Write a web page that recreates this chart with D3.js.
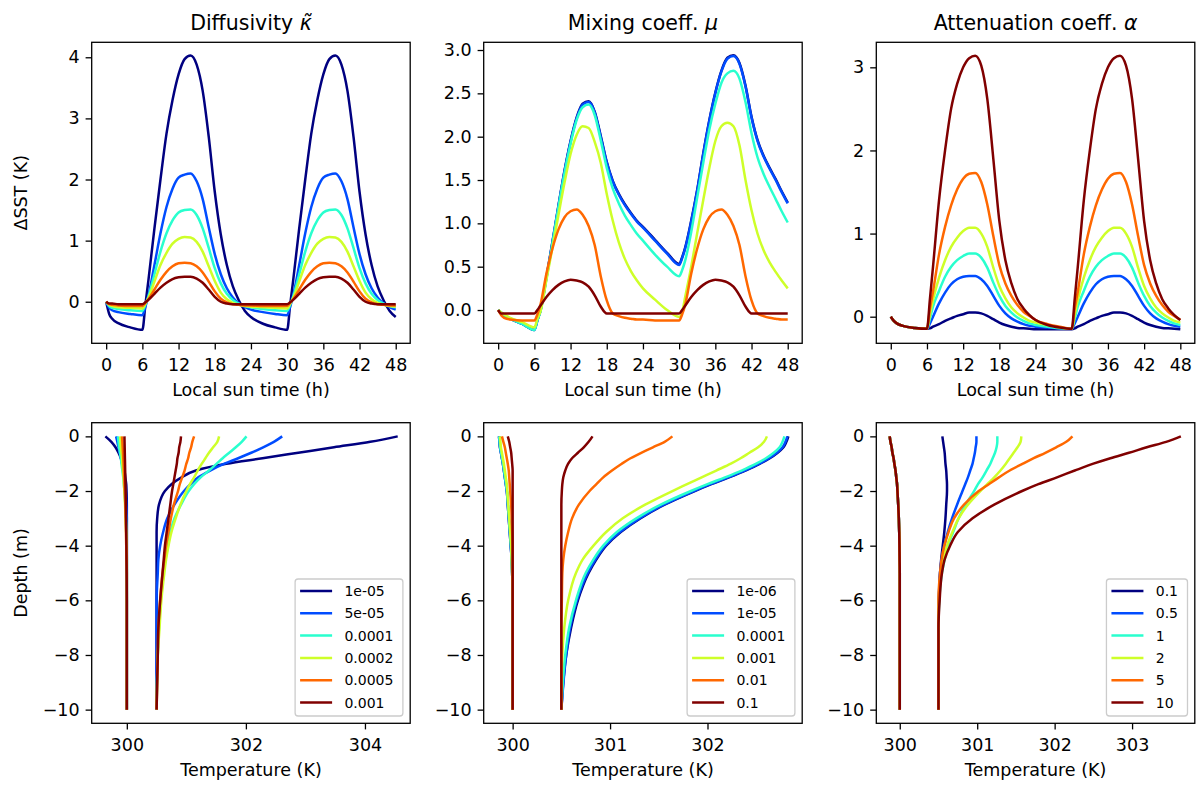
<!DOCTYPE html>
<html>
<head>
<meta charset="utf-8">
<script src="https://cdn.jsdelivr.net/npm/d3@7"></script>
<style>
  body { margin: 0; background: #fff; overflow: hidden; }
  svg { display: block; }
  svg text { font-family: "DejaVu Sans", sans-serif; fill: #000; }
</style>
</head>
<body>
<svg id="fig" width="1198" height="785"></svg>
<script>
// ---------------- data ----------------
const seriesColors = ["#000080", "#004cff", "#29ffce", "#ceff29", "#ff6800", "#800000"];

// local sun time (h)
const hours = [0, 0.5, 1, 2, 4, 6,
  6.5, 7, 8, 9, 10, 11, 12, 13, 14, 15, 16, 17, 18, 19, 20, 21, 22, 23, 24,
  26, 28, 30,
  30.5, 31, 32, 33, 34, 35, 36, 37, 38, 39, 40, 41, 42, 43, 44, 45, 46, 47, 48];

// diffusivity runs: ΔSST (K)
const kappaLabels = ["1e-05", "5e-05", "0.0001", "0.0002", "0.0005", "0.001"];
const sstKappa1e5 = [0, -0.2, -0.28, -0.35, -0.42, -0.46,
  -0.05, 0.35, 1.2, 2.0, 2.75, 3.3, 3.72, 3.97, 4.03, 3.88, 3.45, 2.7, 1.8, 1.1, 0.6, 0.25, 0.02, -0.15, -0.25,
  -0.36, -0.42, -0.46,
  -0.05, 0.35, 1.2, 2.0, 2.75, 3.3, 3.72, 3.97, 4.03, 3.88, 3.45, 2.7, 1.8, 1.1, 0.6, 0.25, 0.02, -0.15, -0.25];
const sstKappa5e5 = [0, -0.1, -0.14, -0.17, -0.2, -0.22,
  -0.08, 0.1, 0.6, 1.12, 1.55, 1.85, 2.03, 2.08, 2.1, 1.97, 1.68, 1.22, 0.78, 0.45, 0.22, 0.07, -0.03, -0.09, -0.13,
  -0.17, -0.2, -0.22,
  -0.08, 0.1, 0.6, 1.12, 1.55, 1.85, 2.03, 2.08, 2.1, 1.97, 1.68, 1.22, 0.78, 0.45, 0.22, 0.07, -0.03, -0.09, -0.13];
const sstKappa1e4 = [0, -0.07, -0.1, -0.12, -0.14, -0.15,
  -0.05, 0.08, 0.45, 0.82, 1.12, 1.33, 1.46, 1.5, 1.51, 1.42, 1.2, 0.88, 0.55, 0.3, 0.13, 0.03, -0.03, -0.07, -0.09,
  -0.12, -0.14, -0.15,
  -0.05, 0.08, 0.45, 0.82, 1.12, 1.33, 1.46, 1.5, 1.51, 1.42, 1.2, 0.88, 0.55, 0.3, 0.13, 0.03, -0.03, -0.07, -0.09];
const sstKappa2e4 = [0, -0.05, -0.07, -0.09, -0.1, -0.11,
  -0.03, 0.06, 0.33, 0.6, 0.8, 0.95, 1.03, 1.06, 1.05, 0.98, 0.82, 0.58, 0.34, 0.15, 0.04, -0.02, -0.05, -0.07, -0.08,
  -0.09, -0.1, -0.11,
  -0.03, 0.06, 0.33, 0.6, 0.8, 0.95, 1.03, 1.06, 1.05, 0.98, 0.82, 0.58, 0.34, 0.15, 0.04, -0.02, -0.05, -0.07, -0.08];
const sstKappa5e4 = [0, -0.04, -0.05, -0.06, -0.07, -0.07,
  -0.02, 0.04, 0.2, 0.36, 0.49, 0.58, 0.63, 0.64, 0.63, 0.58, 0.48, 0.33, 0.17, 0.05, -0.01, -0.04, -0.05, -0.06, -0.06,
  -0.07, -0.07, -0.07,
  -0.02, 0.04, 0.2, 0.36, 0.49, 0.58, 0.63, 0.64, 0.63, 0.58, 0.48, 0.33, 0.17, 0.05, -0.01, -0.04, -0.05, -0.06, -0.06];
const sstKappa1e3 = [0, -0.03, -0.03, -0.04, -0.04, -0.04,
  -0.01, 0.03, 0.13, 0.23, 0.31, 0.37, 0.4, 0.41, 0.41, 0.38, 0.31, 0.2, 0.08, 0.0, -0.03, -0.04, -0.04, -0.04, -0.04,
  -0.04, -0.04, -0.04,
  -0.01, 0.03, 0.13, 0.23, 0.31, 0.37, 0.4, 0.41, 0.41, 0.38, 0.31, 0.2, 0.08, 0.0, -0.03, -0.04, -0.04, -0.04, -0.04];

// mixing runs: ΔSST (K)
const muLabels = ["1e-06", "1e-05", "0.0001", "0.001", "0.01", "0.1"];
const sstMu1e6 = [0, -0.03, -0.06, -0.1, -0.16, -0.23,
  -0.12, -0.01, 0.38, 0.79, 1.21, 1.61, 1.95, 2.22, 2.38, 2.41, 2.29, 2.01, 1.71, 1.49, 1.34, 1.22, 1.12, 1.03, 0.96,
  0.81, 0.66, 0.53,
  0.61, 0.72, 1.03, 1.39, 1.81, 2.19, 2.51, 2.76, 2.91, 2.94, 2.85, 2.59, 2.23, 1.96, 1.78, 1.64, 1.51, 1.37, 1.24];
const sstMu1e5 = [0, -0.03, -0.06, -0.1, -0.16, -0.23,
  -0.12, -0.01, 0.37, 0.78, 1.2, 1.6, 1.94, 2.21, 2.37, 2.4, 2.28, 2.0, 1.7, 1.48, 1.33, 1.21, 1.11, 1.02, 0.95,
  0.8, 0.65, 0.52,
  0.6, 0.71, 1.02, 1.38, 1.8, 2.18, 2.5, 2.75, 2.9, 2.93, 2.84, 2.58, 2.22, 1.95, 1.77, 1.63, 1.5, 1.36, 1.23];
const sstMu1e4 = [0, -0.03, -0.06, -0.1, -0.16, -0.23,
  -0.12, -0.02, 0.36, 0.77, 1.19, 1.58, 1.92, 2.19, 2.34, 2.37, 2.25, 1.96, 1.64, 1.4, 1.23, 1.09, 0.98, 0.88, 0.8,
  0.64, 0.5, 0.39,
  0.46, 0.57, 0.9, 1.3, 1.7, 2.08, 2.38, 2.62, 2.73, 2.76, 2.67, 2.4, 2.04, 1.76, 1.57, 1.42, 1.28, 1.14, 1.01];
const sstMu1e3 = [0, -0.03, -0.05, -0.09, -0.14, -0.2,
  -0.1, -0.02, 0.35, 0.72, 1.1, 1.47, 1.8, 2.02, 2.12, 2.1, 1.94, 1.7, 1.34, 1.03, 0.78, 0.59, 0.45, 0.34, 0.25,
  0.12, 0.0, -0.08,
  -0.02, 0.15, 0.5, 0.89, 1.27, 1.64, 1.95, 2.12, 2.16, 2.12, 1.9, 1.5, 1.15, 0.88, 0.69, 0.55, 0.44, 0.34, 0.25];
const sstMu1e2 = [0, -0.06, -0.09, -0.11, -0.12, -0.12,
  -0.05, 0.06, 0.42, 0.71, 0.93, 1.07, 1.14, 1.16, 1.1, 0.97, 0.75, 0.39, 0.11, -0.04, -0.07, -0.09, -0.1, -0.11, -0.11,
  -0.12, -0.12, -0.12,
  -0.05, 0.06, 0.42, 0.71, 0.93, 1.07, 1.14, 1.16, 1.1, 0.97, 0.75, 0.39, 0.11, -0.04, -0.07, -0.09, -0.1, -0.11, -0.11];
const sstMu1e1 = [0, -0.04, -0.04, -0.04, -0.04, -0.04,
  0.0, 0.05, 0.15, 0.23, 0.29, 0.33, 0.35, 0.34, 0.32, 0.27, 0.17, 0.04, -0.04, -0.04, -0.04, -0.04, -0.04, -0.04, -0.04,
  -0.04, -0.04, -0.04,
  0.0, 0.05, 0.15, 0.23, 0.29, 0.33, 0.35, 0.34, 0.32, 0.27, 0.17, 0.04, -0.04, -0.04, -0.04, -0.04, -0.04, -0.04, -0.04];

// attenuation runs: ΔSST (K)
const alphaLabels = ["0.1", "0.5", "1", "2", "5", "10"];
const sstAlpha01 = [0, -0.05, -0.08, -0.11, -0.135, -0.145,
  -0.14, -0.12, -0.09, -0.05, -0.02, 0.01, 0.03, 0.05, 0.05, 0.04, 0.01, -0.03, -0.07, -0.1, -0.12, -0.135, -0.14, -0.145, -0.15,
  -0.15, -0.15, -0.15,
  -0.14, -0.12, -0.09, -0.05, -0.02, 0.01, 0.03, 0.05, 0.05, 0.04, 0.01, -0.03, -0.07, -0.1, -0.12, -0.135, -0.14, -0.145, -0.15];
const sstAlpha05 = [0, -0.05, -0.08, -0.11, -0.135, -0.145,
  -0.08, 0.0, 0.16, 0.29, 0.39, 0.45, 0.48, 0.49, 0.49, 0.45, 0.37, 0.25, 0.13, 0.04, -0.02, -0.06, -0.09, -0.11, -0.12,
  -0.13, -0.14, -0.145,
  -0.08, 0.0, 0.16, 0.29, 0.39, 0.45, 0.48, 0.49, 0.49, 0.45, 0.37, 0.25, 0.13, 0.04, -0.02, -0.06, -0.09, -0.11, -0.12];
const sstAlpha1 = [0, -0.05, -0.08, -0.11, -0.135, -0.145,
  -0.02, 0.12, 0.31, 0.48, 0.6, 0.68, 0.73, 0.76, 0.76, 0.71, 0.59, 0.41, 0.25, 0.13, 0.05, -0.01, -0.05, -0.08, -0.1,
  -0.12, -0.14, -0.145,
  -0.02, 0.12, 0.31, 0.48, 0.6, 0.68, 0.73, 0.76, 0.76, 0.71, 0.59, 0.41, 0.25, 0.13, 0.05, -0.01, -0.05, -0.08, -0.1];
const sstAlpha2 = [0, -0.05, -0.08, -0.11, -0.135, -0.145,
  0.03, 0.2, 0.47, 0.68, 0.84, 0.95, 1.03, 1.07, 1.07, 1.0, 0.84, 0.59, 0.37, 0.22, 0.11, 0.04, -0.01, -0.05, -0.07,
  -0.1, -0.13, -0.145,
  0.03, 0.2, 0.47, 0.68, 0.84, 0.95, 1.03, 1.07, 1.07, 1.0, 0.84, 0.59, 0.37, 0.22, 0.11, 0.04, -0.01, -0.05, -0.07];
const sstAlpha5 = [0, -0.05, -0.08, -0.11, -0.135, -0.145,
  0.1, 0.3, 0.75, 1.08, 1.34, 1.53, 1.66, 1.72, 1.73, 1.62, 1.35, 0.97, 0.62, 0.4, 0.25, 0.14, 0.06, 0.01, -0.04,
  -0.09, -0.12, -0.145,
  0.1, 0.3, 0.75, 1.08, 1.34, 1.53, 1.66, 1.72, 1.73, 1.62, 1.35, 0.97, 0.62, 0.4, 0.25, 0.14, 0.06, 0.01, -0.04];
const sstAlpha10 = [0, -0.05, -0.08, -0.11, -0.135, -0.145,
  0.22, 0.6, 1.4, 2.0, 2.5, 2.8, 3.0, 3.11, 3.14, 3.02, 2.62, 1.9, 1.15, 0.68, 0.4, 0.21, 0.1, 0.02, -0.04,
  -0.1, -0.13, -0.145,
  0.22, 0.6, 1.4, 2.0, 2.5, 2.8, 3.0, 3.11, 3.14, 3.02, 2.62, 1.9, 1.15, 0.68, 0.4, 0.21, 0.1, 0.02, -0.04];

// depth levels (m) of the temperature profiles
const depths = [0, -0.2, -0.4, -0.6, -0.8, -1, -1.25, -1.5, -1.75, -2, -2.5, -3, -3.5, -4, -4.5, -5, -6, -7, -8, -10];

// diffusivity runs: morning (cool) and afternoon (warm) profiles, K
const coolKappa1e5 = [299.64, 299.74, 299.81, 299.86, 299.9, 299.93, 299.96, 299.975, 299.99, 299.995, 300, 300, 300, 300, 300, 300, 300, 300, 300, 300];
const coolKappa5e5 = [299.82, 299.84, 299.86, 299.88, 299.9, 299.92, 299.94, 299.96, 299.97, 299.98, 299.99, 300, 300, 300, 300, 300, 300, 300, 300, 300];
const coolKappa1e4 = [299.85, 299.86, 299.87, 299.885, 299.9, 299.91, 299.925, 299.94, 299.95, 299.96, 299.975, 299.985, 299.99, 299.995, 300, 300, 300, 300, 300, 300];
const coolKappa2e4 = [299.89, 299.895, 299.9, 299.91, 299.92, 299.925, 299.935, 299.945, 299.95, 299.96, 299.97, 299.98, 299.99, 299.995, 300, 300, 300, 300, 300, 300];
const coolKappa5e4 = [299.92, 299.925, 299.93, 299.935, 299.94, 299.945, 299.95, 299.955, 299.96, 299.965, 299.975, 299.98, 299.985, 299.99, 299.995, 300, 300, 300, 300, 300];
const coolKappa1e3 = [299.96, 299.962, 299.964, 299.966, 299.968, 299.97, 299.972, 299.975, 299.977, 299.98, 299.983, 299.987, 299.99, 299.993, 299.995, 299.997, 300, 300, 300, 300];
const warmKappa1e5 = [304.55, 304.09, 303.48, 302.88, 302.28, 301.67, 301.16, 300.92, 300.75, 300.64, 300.54, 300.51, 300.5, 300.5, 300.5, 300.5, 300.5, 300.5, 300.5, 300.5];
const warmKappa5e5 = [302.61, 302.47, 302.29, 302.09, 301.87, 301.64, 301.4, 301.2, 301.07, 300.96, 300.8, 300.68, 300.61, 300.56, 300.53, 300.52, 300.5, 300.5, 300.5, 300.5];
const warmKappa1e4 = [302.01, 301.93, 301.83, 301.72, 301.61, 301.51, 301.38, 301.24, 301.13, 301.04, 300.91, 300.8, 300.73, 300.69, 300.65, 300.62, 300.57, 300.54, 300.52, 300.5];
const warmKappa2e4 = [301.55, 301.52, 301.45, 301.38, 301.32, 301.26, 301.19, 301.13, 301.06, 301.0, 300.9, 300.82, 300.75, 300.7, 300.66, 300.63, 300.58, 300.55, 300.52, 300.5];
const warmKappa5e4 = [301.13, 301.1, 301.08, 301.05, 301.03, 301.0, 300.97, 300.93, 300.89, 300.86, 300.79, 300.74, 300.7, 300.66, 300.63, 300.6, 300.56, 300.53, 300.52, 300.5];
const warmKappa1e3 = [300.91, 300.9, 300.88, 300.87, 300.85, 300.84, 300.82, 300.8, 300.78, 300.76, 300.73, 300.7, 300.67, 300.64, 300.62, 300.6, 300.56, 300.53, 300.52, 300.5];

// mixing runs
const coolMu1e6 = [299.86, 299.865, 299.87, 299.88, 299.89, 299.9, 299.91, 299.92, 299.93, 299.94, 299.95, 299.96, 299.97, 299.98, 299.99, 299.995, 300, 300, 300, 300];
const coolMu1e5 = [299.86, 299.865, 299.87, 299.88, 299.89, 299.9, 299.91, 299.92, 299.93, 299.94, 299.95, 299.96, 299.97, 299.98, 299.99, 299.995, 300, 300, 300, 300];
const coolMu1e4 = [299.862, 299.867, 299.872, 299.882, 299.892, 299.902, 299.912, 299.922, 299.932, 299.942, 299.952, 299.962, 299.972, 299.982, 299.99, 299.995, 300, 300, 300, 300];
const coolMu1e3 = [299.87, 299.875, 299.88, 299.89, 299.9, 299.91, 299.92, 299.93, 299.94, 299.945, 299.955, 299.965, 299.975, 299.985, 299.99, 299.995, 300, 300, 300, 300];
const coolMu1e2 = [299.89, 299.905, 299.92, 299.93, 299.94, 299.95, 299.96, 299.965, 299.97, 299.975, 299.985, 299.99, 299.995, 300, 300, 300, 300, 300, 300, 300];
const coolMu1e1 = [299.95, 299.965, 299.975, 299.985, 299.99, 299.995, 300, 300, 300, 300, 300, 300, 300, 300, 300, 300, 300, 300, 300, 300];
const warmMu1e6 = [302.83, 302.81, 302.78, 302.72, 302.64, 302.54, 302.39, 302.22, 302.04, 301.87, 301.56, 301.31, 301.11, 300.96, 300.86, 300.78, 300.67, 300.6, 300.55, 300.5];
const warmMu1e5 = [302.82, 302.8, 302.77, 302.71, 302.63, 302.53, 302.38, 302.21, 302.03, 301.86, 301.55, 301.3, 301.1, 300.95, 300.85, 300.77, 300.66, 300.59, 300.55, 300.5];
const warmMu1e4 = [302.79, 302.77, 302.74, 302.68, 302.6, 302.5, 302.35, 302.18, 302.0, 301.83, 301.52, 301.27, 301.07, 300.93, 300.83, 300.75, 300.65, 300.58, 300.54, 300.5];
const warmMu1e3 = [302.61, 302.58, 302.52, 302.43, 302.34, 302.24, 302.09, 301.94, 301.79, 301.64, 301.36, 301.13, 300.96, 300.83, 300.72, 300.65, 300.57, 300.53, 300.51, 300.5];
const warmMu1e2 = [301.64, 301.56, 301.44, 301.32, 301.21, 301.12, 301.02, 300.93, 300.86, 300.79, 300.68, 300.61, 300.57, 300.54, 300.52, 300.51, 300.505, 300.5, 300.5, 300.5];
const warmMu1e1 = [300.82, 300.78, 300.73, 300.67, 300.61, 300.57, 300.54, 300.52, 300.51, 300.505, 300.5, 300.5, 300.5, 300.5, 300.5, 300.5, 300.5, 300.5, 300.5, 300.5];

// attenuation runs (the cool profile is the same for every α)
const coolAlpha = [299.87, 299.88, 299.895, 299.905, 299.92, 299.93, 299.945, 299.955, 299.965, 299.97, 299.98, 299.988, 299.993, 299.996, 299.998, 300, 300, 300, 300, 300];
const warmAlpha01 = [300.55, 300.56, 300.57, 300.58, 300.585, 300.59, 300.6, 300.605, 300.61, 300.61, 300.6, 300.59, 300.575, 300.555, 300.535, 300.52, 300.505, 300.5, 300.5, 300.5];
const warmAlpha05 = [300.99, 300.99, 300.98, 300.97, 300.955, 300.94, 300.91, 300.88, 300.845, 300.81, 300.74, 300.675, 300.62, 300.575, 300.54, 300.52, 300.505, 300.5, 300.5, 300.5];
const warmAlpha1 = [301.26, 301.26, 301.25, 301.23, 301.2, 301.17, 301.12, 301.07, 301.01, 300.96, 300.85, 300.76, 300.69, 300.62, 300.58, 300.545, 300.51, 300.5, 300.5, 300.5];
const warmAlpha2 = [301.57, 301.56, 301.52, 301.47, 301.42, 301.37, 301.3, 301.22, 301.13, 301.04, 300.88, 300.76, 300.68, 300.61, 300.56, 300.53, 300.505, 300.5, 300.5, 300.5];
const warmAlpha5 = [302.23, 302.15, 302.02, 301.88, 301.73, 301.59, 301.42, 301.28, 301.15, 301.02, 300.83, 300.7, 300.63, 300.575, 300.54, 300.52, 300.5, 300.5, 300.5, 300.5];
const warmAlpha10 = [303.63, 303.44, 303.19, 302.96, 302.72, 302.5, 302.26, 302.03, 301.79, 301.58, 301.22, 300.94, 300.75, 300.65, 300.58, 300.545, 300.515, 300.5, 300.5, 300.5];

// tick values
const hourTicks = [0, 6, 12, 18, 24, 30, 36, 42, 48];
const depthTicks = [0, -2, -4, -6, -8, -10];

// ---------------- layout ----------------
const svg = d3.select("#fig");
const AX_W = 318.5;
const colLeft = [91.7, 483.7, 876.3];
const rowTop = [42.3, 422.7];
const rowBottom = [343.3, 723.3];
const FS = 17.5;
const LINE_W = 2.5;
const SPINE_W = 1.3;
const TICK_LEN = 6.1;

function makeScales(col, row, xDomain, yDomain) {
  return {
    x: d3.scaleLinear().domain(xDomain).range([colLeft[col], colLeft[col] + AX_W]),
    y: d3.scaleLinear().domain(yDomain).range([rowBottom[row], rowTop[row]]),
    col, row
  };
}

function drawAxes(ax, xTicks, xFmt, yTicks, yFmt) {
  const gx = svg.append("g")
    .attr("transform", `translate(0,${rowBottom[ax.row]})`)
    .call(d3.axisBottom(ax.x).tickValues(xTicks).tickFormat(xFmt)
      .tickSize(TICK_LEN).tickPadding(9.5).tickSizeOuter(0));
  const gy = svg.append("g")
    .attr("transform", `translate(${colLeft[ax.col]},0)`)
    .call(d3.axisLeft(ax.y).tickValues(yTicks).tickFormat(yFmt)
      .tickSize(TICK_LEN).tickPadding(6).tickSizeOuter(0));
  [gx, gy].forEach(g => {
    g.attr("font-size", null).attr("font-family", null);
    g.select(".domain").remove();
    g.selectAll(".tick line").attr("stroke", "#000").attr("stroke-width", SPINE_W);
    g.selectAll(".tick text").style("font-size", FS + "px");
  });
}

function drawFrame(ax) {
  svg.append("rect")
    .attr("x", colLeft[ax.col]).attr("y", rowTop[ax.row])
    .attr("width", AX_W).attr("height", rowBottom[ax.row] - rowTop[ax.row])
    .attr("fill", "none").attr("stroke", "#000").attr("stroke-width", SPINE_W);
}

function drawTimeSeries(ax, seriesList) {
  const line = d3.line()
    .x(d => ax.x(d[0])).y(d => ax.y(d[1]))
    .curve(d3.curveMonotoneX);
  seriesList.forEach((vals, i) => {
    const pts = hours.map((t, k) => [t, vals[k]]).filter(p => p[1] !== undefined);
    svg.append("path").attr("d", line(pts))
      .attr("fill", "none").attr("stroke", seriesColors[i])
      .attr("stroke-width", LINE_W).attr("stroke-linejoin", "round").attr("stroke-linecap", "butt");
  });
}

function drawProfiles(ax, coolList, warmList) {
  const line = d3.line()
    .x(d => ax.x(d[0])).y(d => ax.y(d[1]))
    .curve(d3.curveMonotoneY);
  coolList.forEach((cool, i) => {
    [cool, warmList[i]].forEach(prof => {
      const pts = depths.map((z, k) => [prof[k], z]).filter(p => p[0] !== undefined);
      svg.append("path").attr("d", line(pts))
        .attr("fill", "none").attr("stroke", seriesColors[i])
        .attr("stroke-width", LINE_W).attr("stroke-linejoin", "round").attr("stroke-linecap", "butt");
    });
  });
}

function drawLegend(ax, labels) {
  const fs = 14, rowH = 22.3;
  const g = svg.append("g");
  const probe = g.append("text").style("font-size", fs + "px");
  let maxW = 0;
  labels.forEach(l => { probe.text(l); maxW = Math.max(maxW, probe.node().getComputedTextLength()); });
  probe.remove();
  const boxRight = colLeft[ax.col] + AX_W - 7.3;
  const boxBottom = rowBottom[ax.row] - 7.3;
  const boxTop = boxBottom - 137;
  const textX = boxRight - 9.5 - maxW;
  const hx2 = textX - 12.3, hx1 = hx2 - 32;
  const boxLeft = hx1 - 5;
  g.append("rect")
    .attr("x", boxLeft).attr("y", boxTop)
    .attr("width", boxRight - boxLeft).attr("height", boxBottom - boxTop)
    .attr("rx", 3).attr("ry", 3)
    .attr("fill", "#fff").attr("fill-opacity", 0.8)
    .attr("stroke", "#cccccc").attr("stroke-width", 1.3);
  labels.forEach((l, i) => {
    const cy = boxTop + 12 + i * rowH;
    g.append("line").attr("x1", hx1).attr("x2", hx2).attr("y1", cy).attr("y2", cy)
      .attr("stroke", seriesColors[i]).attr("stroke-width", LINE_W);
    g.append("text").attr("x", textX).attr("y", cy).attr("dy", "0.36em")
      .style("font-size", fs + "px").text(l);
  });
}

function title(ax, parts) {
  const t = svg.append("text")
    .attr("x", colLeft[ax.col] + AX_W / 2).attr("y", 30)
    .attr("text-anchor", "middle").style("font-size", "20.5px");
  parts.forEach(p => {
    const s = t.append("tspan").text(p.text);
    if (p.italic) s.style("font-style", "italic");
  });
}

function xLabel(ax, text) {
  svg.append("text").attr("x", colLeft[ax.col] + AX_W / 2).attr("y", rowBottom[ax.row] + 53)
    .attr("text-anchor", "middle").style("font-size", FS + "px").text(text);
}

function yLabel(ax, text) {
  const cy = (rowTop[ax.row] + rowBottom[ax.row]) / 2;
  svg.append("text").attr("transform", `translate(27,${cy}) rotate(-90)`)
    .attr("text-anchor", "middle").style("font-size", FS + "px").text(text);
}

const fmtInt = d3.format("d");
const fmt1 = d3.format(".1f");

// ---------------- top row: ΔSST time series ----------------
const axK = makeScales(0, 0, [-2.4, 50.4], [-0.68, 4.245]);
const axM = makeScales(1, 0, [-2.4, 50.4], [-0.384, 3.089]);
const axA = makeScales(2, 0, [-2.4, 50.4], [-0.32, 3.301]);

drawAxes(axK, hourTicks, fmtInt, [0, 1, 2, 3, 4], fmtInt);
drawAxes(axM, hourTicks, fmtInt, [0, 0.5, 1, 1.5, 2, 2.5, 3], fmt1);
drawAxes(axA, hourTicks, fmtInt, [0, 1, 2, 3], fmtInt);

drawTimeSeries(axK, [sstKappa1e5, sstKappa5e5, sstKappa1e4, sstKappa2e4, sstKappa5e4, sstKappa1e3]);
drawTimeSeries(axM, [sstMu1e6, sstMu1e5, sstMu1e4, sstMu1e3, sstMu1e2, sstMu1e1]);
drawTimeSeries(axA, [sstAlpha01, sstAlpha05, sstAlpha1, sstAlpha2, sstAlpha5, sstAlpha10]);

[axK, axM, axA].forEach(drawFrame);

title(axK, [{ text: "Diffusivity " }, { text: "κ\u0303", italic: true }]);
title(axM, [{ text: "Mixing coeff. " }, { text: "μ", italic: true }]);
title(axA, [{ text: "Attenuation coeff. " }, { text: "α", italic: true }]);

[axK, axM, axA].forEach(ax => xLabel(ax, "Local sun time (h)"));
yLabel(axK, "ΔSST (K)");

// ---------------- bottom row: temperature profiles ----------------
const pK = makeScales(0, 1, [299.41, 304.76], [-10.5, 0.5]);
const pM = makeScales(1, 1, [299.703, 302.972], [-10.5, 0.5]);
const pA = makeScales(2, 1, [299.697, 303.81], [-10.5, 0.5]);

drawAxes(pK, [300, 302, 304], fmtInt, depthTicks, fmtInt);
drawAxes(pM, [300, 301, 302], fmtInt, depthTicks, fmtInt);
drawAxes(pA, [300, 301, 302, 303], fmtInt, depthTicks, fmtInt);

drawProfiles(pK,
  [coolKappa1e5, coolKappa5e5, coolKappa1e4, coolKappa2e4, coolKappa5e4, coolKappa1e3],
  [warmKappa1e5, warmKappa5e5, warmKappa1e4, warmKappa2e4, warmKappa5e4, warmKappa1e3]);
drawProfiles(pM,
  [coolMu1e6, coolMu1e5, coolMu1e4, coolMu1e3, coolMu1e2, coolMu1e1],
  [warmMu1e6, warmMu1e5, warmMu1e4, warmMu1e3, warmMu1e2, warmMu1e1]);
drawProfiles(pA,
  [coolAlpha, coolAlpha, coolAlpha, coolAlpha, coolAlpha, coolAlpha],
  [warmAlpha01, warmAlpha05, warmAlpha1, warmAlpha2, warmAlpha5, warmAlpha10]);

[pK, pM, pA].forEach(drawFrame);

drawLegend(pK, kappaLabels);
drawLegend(pM, muLabels);
drawLegend(pA, alphaLabels);

[pK, pM, pA].forEach(ax => xLabel(ax, "Temperature (K)"));
yLabel(pK, "Depth (m)");
</script>
</body>
</html>
